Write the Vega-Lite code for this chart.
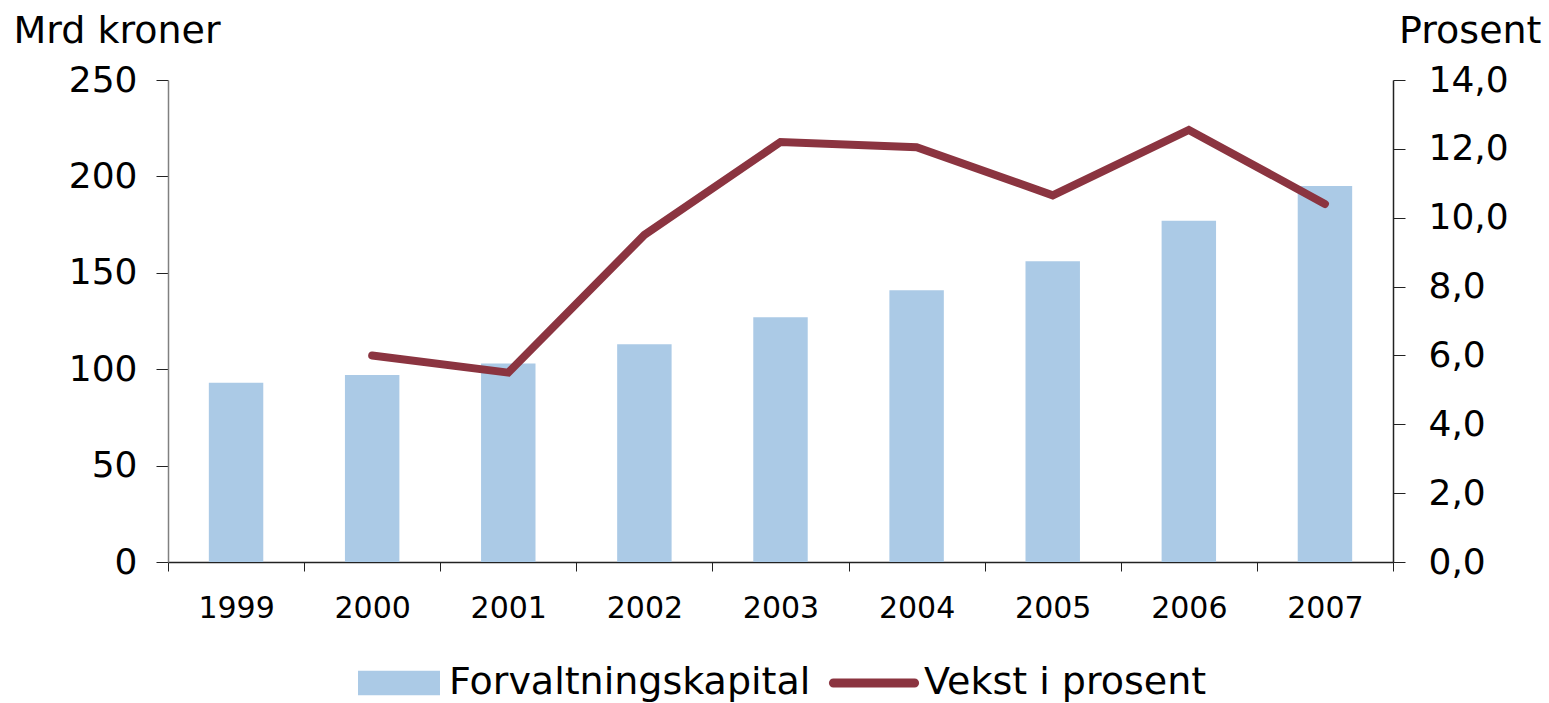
{
  "$schema": "https://vega.github.io/schema/vega-lite/v6.json",
  "width": 1225,
  "height": 482,
  "autosize": {"type": "none"},
  "padding": {"left": 168, "top": 80, "right": 156, "bottom": 141},
  "config": {
    "font": "DejaVu Sans",
    "view": {"stroke": null},
    "axis": {"labelColor": "#000", "titleColor": "#000", "titleFontWeight": "normal", "grid": false}
  },
  "data": {
    "values": [
      {"year": "1999", "kapital": 93, "vekst": null},
      {"year": "2000", "kapital": 97, "vekst": 6.0},
      {"year": "2001", "kapital": 103, "vekst": 5.5},
      {"year": "2002", "kapital": 113, "vekst": 9.5},
      {"year": "2003", "kapital": 127, "vekst": 12.2},
      {"year": "2004", "kapital": 141, "vekst": 12.05},
      {"year": "2005", "kapital": 156, "vekst": 10.65},
      {"year": "2006", "kapital": 177, "vekst": 12.55},
      {"year": "2007", "kapital": 195, "vekst": 10.4}
    ]
  },
  "encoding": {
    "x": {
      "field": "year",
      "type": "ordinal",
      "scale": {"paddingInner": 0, "paddingOuter": 0},
      "axis": {
        "title": null,
        "labelAngle": 0,
        "labelFontSize": 30,
        "labelPadding": 22,
        "tickBand": "extent",
        "tickSize": 9,
        "tickColor": "#222",
        "domainColor": "#222",
        "domainWidth": 1.5
      }
    }
  },
  "layer": [
    {
      "mark": {"type": "bar", "width": {"band": 0.4}},
      "encoding": {
        "y": {
          "field": "kapital",
          "type": "quantitative",
          "scale": {"domain": [0, 250]},
          "axis": {
            "title": "Mrd kroner",
            "titleAngle": 0,
            "titleX": -155,
            "titleY": -38,
            "titleAlign": "left",
            "titleBaseline": "alphabetic",
            "titleFontSize": 38,
            "values": [0, 50, 100, 150, 200, 250],
            "labelFontSize": 36,
            "labelPadding": 19,
            "tickSize": 12,
            "tickColor": "#222",
            "domainColor": "#808080",
            "domainWidth": 1.5
          }
        },
        "color": {
          "datum": "Forvaltningskapital",
          "scale": {"domain": ["Forvaltningskapital", "Vekst i prosent"], "range": ["#abcae6", "#8b3440"]},
          "legend": {
            "title": null,
            "orient": "none",
            "direction": "horizontal",
            "legendX": 190,
            "legendY": 562,
            "labelFontSize": 38,
            "labelLimit": 0,
            "labelColor": "#000",
            "labelOffset": 9,
            "columnPadding": 17,
            "symbolSize": 6724,
            "encode": {
              "symbols": {
                "update": {
                  "shape": {"signal": "datum.label === 'Vekst i prosent' ? 'M-0.99,-0.11H0.99A0.11,0.11 0 0 1 0.99,0.11H-0.99A0.11,0.11 0 0 1 -0.99,-0.11Z' : 'M-1,-0.3H1V0.3H-1Z'"},
                  "fill": {"scale": "color", "field": "value"},
                  "strokeWidth": {"value": 0},
                  "opacity": {"value": 1}
                }
              }
            }
          }
        }
      }
    },
    {
      "transform": [{"filter": "datum.vekst != null"}],
      "mark": {"type": "line", "strokeWidth": 8, "strokeCap": "round", "strokeJoin": "miter"},
      "encoding": {
        "y": {
          "field": "vekst",
          "type": "quantitative",
          "scale": {"domain": [0, 14]},
          "axis": {
            "orient": "right",
            "title": "Prosent",
            "titleAngle": 0,
            "titleX": 148,
            "titleY": -38,
            "titleAlign": "right",
            "titleBaseline": "alphabetic",
            "titleFontSize": 38,
            "values": [0, 2, 4, 6, 8, 10, 12, 14],
            "labelExpr": "replace(format(datum.value, '.1f'), '.', ',')",
            "labelFontSize": 36,
            "labelPadding": 23,
            "tickSize": 12,
            "tickColor": "#222",
            "domainColor": "#222",
            "domainWidth": 1.5
          }
        },
        "color": {"datum": "Vekst i prosent"}
      }
    }
  ],
  "resolve": {"scale": {"y": "independent"}}
}
